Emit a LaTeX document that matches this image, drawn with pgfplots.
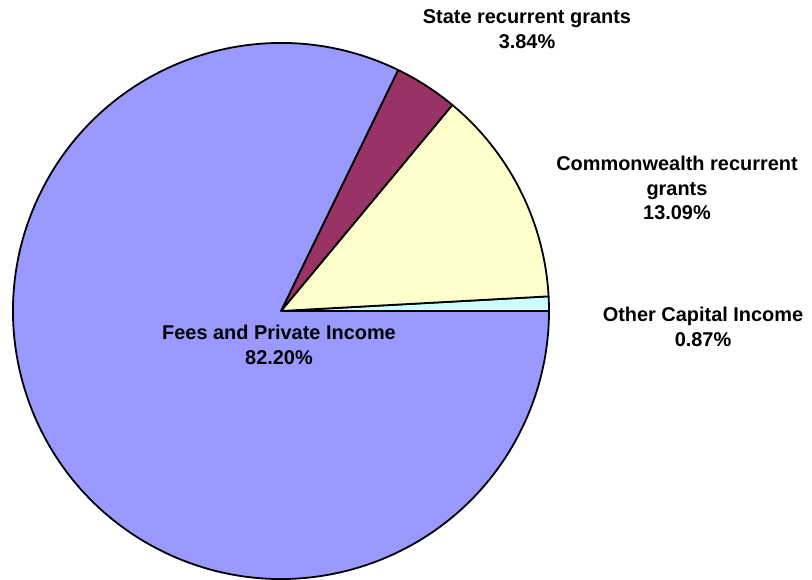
\documentclass[border=0pt]{standalone}
\usepackage{fontspec}
\setmainfont{Liberation Sans}
\usepackage{pgfplots}
\usepackage{pgfplotstable}
\pgfplotsset{compat=1.18}
\definecolor{feesblue}{HTML}{9999FF}
\definecolor{statepurple}{HTML}{993366}
\definecolor{cwyellow}{HTML}{FFFFCC}
\definecolor{othercyan}{HTML}{CCFFFF}

% shares in percent, counter-clockwise from 3 o'clock
\pgfplotstableread[col sep=comma]{
name,share
Other Capital Income,0.87
Commonwealth recurrent grants,13.09
State recurrent grants,3.84
Fees and Private Income,82.20
}\piedata

\pgfplotstablegetelem{0}{share}\of\piedata \let\sA\pgfplotsretval
\pgfplotstablegetelem{1}{share}\of\piedata \let\sB\pgfplotsretval
\pgfplotstablegetelem{2}{share}\of\piedata \let\sC\pgfplotsretval
\pgfmathsetmacro\aA{3.6*\sA}
\pgfmathsetmacro\aB{\aA+3.6*\sB}
\pgfmathsetmacro\aC{\aB+3.6*\sC}

\begin{document}
\begin{tikzpicture}
\begin{axis}[
    scale only axis,
    width=812bp, height=580bp,
    xmin=0, xmax=812, ymin=-580, ymax=0,
    hide axis, clip=false,
]
\coordinate (BL) at (axis cs:0,-580);
\coordinate (TR) at (axis cs:812,0);
\def\cx{281}\def\cy{-311}\def\R{268bp}
\tikzset{wedge/.style={draw=black, line width=1.8pt, line join=round}}
\fill[othercyan, wedge] (axis cs:\cx,\cy) -- ++(0:\R) arc[start angle=0, end angle=\aA, radius=\R] -- cycle;
\fill[cwyellow, wedge] (axis cs:\cx,\cy) -- ++(\aA:\R) arc[start angle=\aA, end angle=\aB, radius=\R] -- cycle;
\fill[statepurple, wedge] (axis cs:\cx,\cy) -- ++(\aB:\R) arc[start angle=\aB, end angle=\aC, radius=\R] -- cycle;
\fill[feesblue, wedge] (axis cs:\cx,\cy) -- ++(\aC:\R) arc[start angle=\aC, end angle=360, radius=\R] -- cycle;

\tikzset{lbl/.style={align=center, font=\fontsize{20}{24.5}\selectfont\bfseries, inner sep=0pt}}
\node[lbl] at (axis cs:527,-29) {State recurrent grants\\3.84\%};
\node[lbl] at (axis cs:677,-188) {Commonwealth recurrent\\grants\\13.09\%};
\node[lbl] at (axis cs:703,-327) {Other Capital Income\\0.87\%};
\node[lbl] at (axis cs:279,-345) {Fees and Private Income\\82.20\%};
\end{axis}
\pgfresetboundingbox
\path (BL) rectangle (TR);
\end{tikzpicture}
\end{document}
